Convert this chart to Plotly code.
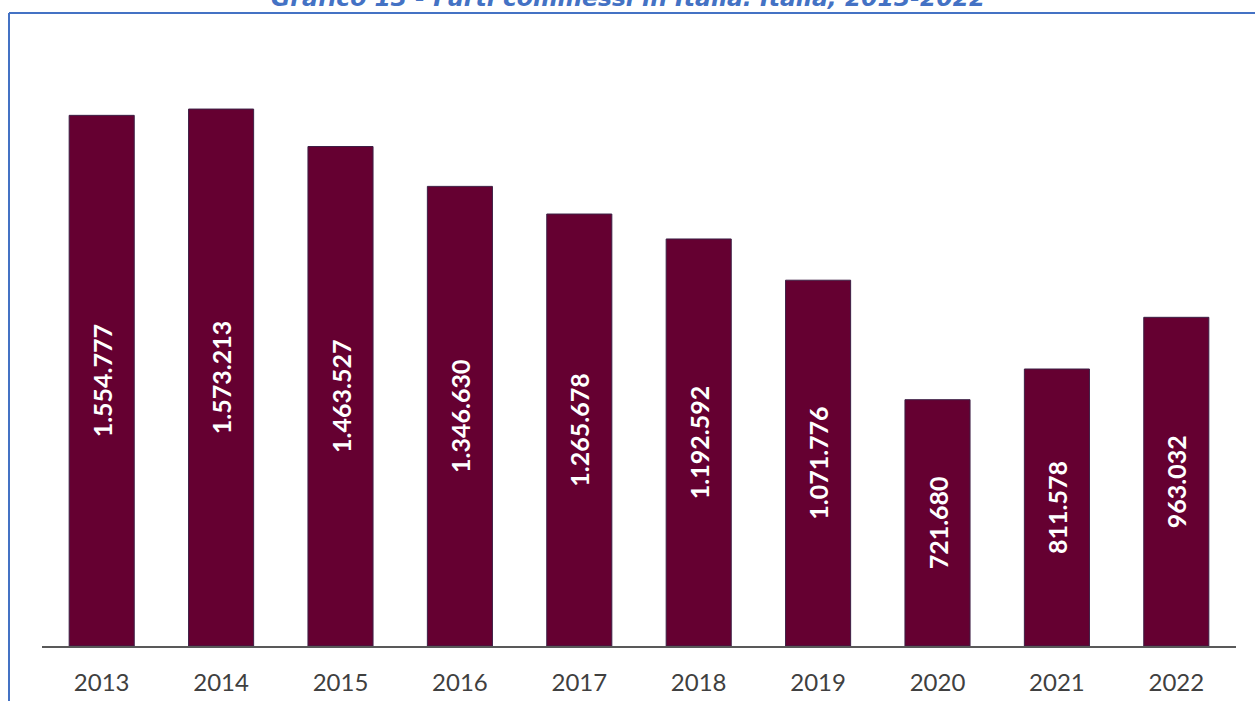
import plotly.graph_objects as go

years = ["2013", "2014", "2015", "2016", "2017", "2018", "2019", "2020", "2021", "2022"]
furti = [1554777, 1573213, 1463527, 1346630, 1265678, 1192592, 1071776, 721680, 811578, 963032]
title_text = "Grafico 13 - Furti commessi in Italia. Italia, 2013-2022"

W, H = 1255, 701
ML, MR, MT, MB = 42, 19, 40, 55

fig = go.Figure(
    go.Bar(
        x=years,
        y=furti,
        marker=dict(color="#650031", line=dict(color="#3d1f45", width=1)),
        texttemplate="%{y:,.0f}",
        textposition="inside",
        textangle=-90,
        insidetextanchor="middle",
        textfont=dict(family="Lato", size=25, color="white", weight="bold"),
        hoverinfo="skip",
    )
)

def px_x(p):
    return (p - ML) / (W - ML - MR)

def px_y(p):
    return (H - MB - p) / (H - MT - MB)

fig.update_layout(
    width=W,
    height=H,
    margin=dict(l=ML, r=MR, t=MT, b=MB, pad=0),
    paper_bgcolor="white",
    plot_bgcolor="white",
    separators=",.",
    bargap=0.455,
    showlegend=False,
    xaxis=dict(
        showline=True,
        linecolor="#595959",
        linewidth=2,
        ticks="",
        tickfont=dict(family="Lato", size=24, color="#404040"),
        ticklabelstandoff=14,
        showgrid=False,
        automargin=False,
    ),
    yaxis=dict(
        range=[0, 1775560],
        visible=False,
        showgrid=False,
        automargin=False,
    ),
    shapes=[
        dict(type="line", xref="paper", yref="paper",
             x0=px_x(9), x1=px_x(1270), y0=px_y(13), y1=px_y(13),
             line=dict(color="#4472C4", width=2)),
        dict(type="line", xref="paper", yref="paper",
             x0=px_x(9), x1=px_x(9), y0=px_y(13), y1=px_y(720),
             line=dict(color="#4472C4", width=2)),
    ],
    annotations=[
        dict(text=title_text, xref="paper", yref="paper",
             x=px_x(628), y=1, xanchor="center", yanchor="bottom", yshift=26,
             showarrow=False,
             font=dict(family="DejaVu Sans", size=23.5, color="#4472C4", weight="bold", style="italic")),
    ],
)

fig.write_html("out.html", post_script="document.body.style.margin='0';",
               config={"displayModeBar": False})
